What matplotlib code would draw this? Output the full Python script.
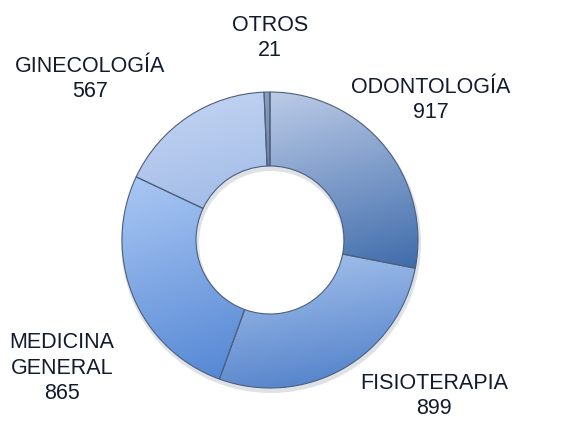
import numpy as np
import matplotlib.pyplot as plt
from matplotlib.patches import Wedge
from matplotlib.colors import LinearSegmentedColormap

# datos del gráfico (orden horario desde arriba)
categorias = ['ODONTOLOGÍA', 'FISIOTERAPIA', 'MEDICINA\nGENERAL', 'GINECOLOGÍA', 'OTROS']
valores = [917, 899, 865, 567, 21]

# colores degradado (claro arriba, oscuro abajo) para cada porción
claros = ['#bccbe7', '#b3ccf2', '#abc8f4', '#c6d6f3', '#8ea3c2']
oscuros = ['#3f6cab', '#4a7bc6', '#4f83d2', '#97b4e4', '#55698a']

# posiciones de las etiquetas en pixeles (x, y desde arriba)
pos_etiquetas = [(431, 100), (434, 396), (62, 368), (90, 79), (270, 38)]

W, H = 562, 421
fig = plt.figure(figsize=(W / 100, H / 100), dpi=100)
ax = fig.add_axes([0, 0, 1, 1])

cx, cy = 270, H - 240
r_ext, ancho = 148, 74

# sombra suave debajo del anillo
sombra = Wedge((cx + 1, cy - 3), r_ext + 2, 0, 360, width=ancho + 4,
               color='#c4c9d2', alpha=0.55, zorder=0, linewidth=0)
ax.add_patch(sombra)

wedges, _ = ax.pie(valores, startangle=90, counterclock=False, center=(cx, cy),
                   radius=r_ext, wedgeprops=dict(width=ancho, edgecolor='#4d5f7c',
                                                 linewidth=0.8, facecolor='none'))

for w, c1, c2 in zip(wedges, claros, oscuros):
    v = w.get_path().vertices
    x0, x1 = v[:, 0].min(), v[:, 0].max()
    y0, y1 = v[:, 1].min(), v[:, 1].max()
    cmap = LinearSegmentedColormap.from_list('g', [c2, c1])
    gx = np.linspace(0, 1, 200)
    gy = np.linspace(0, 1, 200)
    gxx, gyy = np.meshgrid(gx, gy)
    grad = 0.8 * gyy + 0.2 * (1 - gxx)
    im = ax.imshow(grad, extent=(x0, x1, y0, y1), origin='lower', cmap=cmap,
                   vmin=0, vmax=1, aspect='auto', zorder=1, interpolation='bilinear')
    im.set_clip_path(w)
    w.set_zorder(2)

for txt, val, (px, py) in zip(categorias, valores, pos_etiquetas):
    ax.text(px, H - py, f'{txt}\n{val}', ha='center', va='center', fontsize=15.5,
            family='Liberation Sans', color='#121a30', linespacing=1.3)

ax.set_xlim(0, W)
ax.set_ylim(0, H)
ax.set_aspect('equal')
ax.axis('off')

fig.savefig('out.png', dpi=100)
